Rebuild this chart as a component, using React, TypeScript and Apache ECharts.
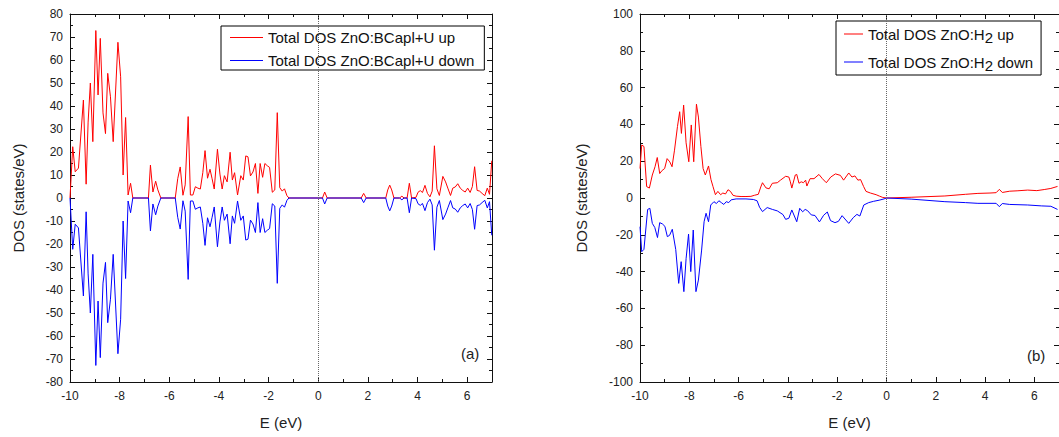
import React, { useEffect, useRef } from "react";
import * as echarts from "echarts";

// Panel (a): ZnO:BCapl+U
const EA = [-10.0, -9.89, -9.79, -9.66, -9.46, -9.35, -9.27, -9.18, -9.08, -8.96, -8.87, -8.78, -8.67, -8.57, -8.48, -8.37, -8.26, -8.07, -7.96, -7.86, -7.76, -7.66, -7.56, -7.47, -6.84, -6.76, -6.66, -6.55, -6.46, -6.34, -5.76, -5.66, -5.56, -5.45, -5.36, -5.24, -5.15, -5.05, -4.95, -4.85, -4.75, -4.65, -4.56, -4.46, -4.36, -4.28, -4.19, -4.06, -3.96, -3.87, -3.78, -3.67, -3.55, -3.46, -3.37, -3.25, -3.12, -3.02, -2.92, -2.83, -2.73, -2.63, -2.53, -2.43, -2.34, -2.24, -2.15, -2.05, -1.96, -1.85, -1.75, -1.65, -1.55, -1.45, -1.36, -1.26, -1.18, 0.17, 0.26, 0.36, 1.73, 1.83, 1.93, 2.72, 2.8, 2.88, 2.96, 3.05, 3.28, 3.37, 3.46, 3.58, 3.67, 3.76, 3.94, 4.02, 4.11, 4.2, 4.3, 4.4, 4.5, 4.59, 4.68, 4.78, 4.88, 5.02, 5.13, 5.22, 5.33, 5.42, 5.52, 5.62, 5.72, 5.82, 5.92, 6.02, 6.12, 6.21, 6.3, 6.4, 6.5, 6.6, 6.71, 6.81, 6.9, 6.99];
const UA = [0, 22.3, 11.4, 13, 42.6, 6, 33, 50, 24.5, 72.8, 44.8, 69.4, 37, 28, 54.2, 44, 24.5, 67.7, 52.7, 10, 35, 1.3, 6.4, 0, 0, 14.3, 2.6, 7.3, 3.5, 0, 0, 8.4, 13.5, 1.2, 5.7, 35.4, 1.3, 1.3, 4.9, 4.3, 3.9, 11, 20.6, 8.6, 12.5, 8.6, 3.9, 21.2, 10.4, 3.9, 9.7, 7, 19.9, 7.8, 11, 1.3, 9.7, 7.8, 18.3, 17.9, 9.6, 11.3, 15, 2, 15, 9, 15, 14, 13.3, 2.5, 3.5, 37.1, 4.5, 3, 4, 1, 0, 0, 2.6, 0, 0, 2, 0, 0, 3.5, 5.6, 3.5, 0, 0, 0.8, 0, 0, 6.4, 0, 0.3, 2.5, 3.2, 2.4, 5.5, 2, 0.5, 3, 22.7, 4, 1.1, 9.4, 7, 4.3, 1.1, 4.3, 4.8, 6.2, 4.3, 3.3, 2.6, 4.3, 2.4, 5, 13.6, 3.3, 3, 2, 1, 4.3, 1.6, 16.2];
const DA = [0, -22.3, -11.4, -13, -42.6, -6, -33, -50, -24.5, -72.8, -44.8, -69.4, -37, -28, -54.2, -44, -24.5, -67.7, -52.7, -10, -35, -1.3, -6.4, 0, 0, -14.3, -2.6, -7.3, -3.5, 0, 0, -8.4, -13.5, -1.2, -5.7, -35.4, -1.3, -1.3, -4.9, -4.3, -3.9, -11, -20.6, -8.6, -12.5, -8.6, -3.9, -21.2, -10.4, -3.9, -9.7, -7, -19.9, -7.8, -11, -1.3, -9.7, -7.8, -18.3, -17.9, -9.6, -11.3, -15, -2, -15, -9, -15, -14, -13.3, -2.5, -3.5, -37.1, -4.5, -3, -4, -1, 0, 0, -2.6, 0, 0, -2, 0, 0, -3.5, -5.6, -3.5, 0, 0, -0.8, 0, 0, -6.4, 0, -0.3, -2.5, -3.2, -2.4, -5.5, -2, -0.5, -3, -22.7, -4, -1.1, -9.4, -7, -4.3, -1.1, -4.3, -4.8, -6.2, -4.3, -3.3, -2.6, -4.3, -2.4, -5, -13.6, -3.3, -3, -2, -1, -4.3, -1.6, -16.2];

// Panel (b): ZnO:H2
const EB_UP = [-10.0, -9.93, -9.84, -9.73, -9.62, -9.5, -9.39, -9.3, -9.2, -9.1, -9.0, -8.9, -8.79, -8.7, -8.6, -8.48, -8.39, -8.32, -8.23, -8.13, -8.02, -7.92, -7.82, -7.71, -7.63, -7.53, -7.44, -7.35, -7.22, -7.12, -7.04, -6.94, -6.84, -6.73, -6.64, -6.53, -6.43, -6.33, -6.23, -6.1, -5.9, -5.7, -5.5, -5.35, -5.2, -5.1, -5.03, -4.89, -4.76, -4.63, -4.43, -4.3, -4.09, -3.96, -3.9, -3.84, -3.7, -3.64, -3.55, -3.46, -3.37, -3.28, -3.23, -3.1, -2.94, -2.74, -2.6, -2.44, -2.26, -2.07, -1.87, -1.74, -1.53, -1.4, -1.28, -1.16, -1.05, -0.93, -0.83, -0.65, -0.42, -0.28, -0.15, 0, 1.0, 2.37, 3.2, 3.71, 4.2, 4.45, 4.58, 4.7, 5.0, 5.3, 5.73, 6.1, 6.4, 6.67, 6.94];
const UB = [16, 28.8, 28, 6.2, 5.4, 12.5, 17, 22, 13.3, 15, 16, 21.4, 19.6, 17, 26, 38.8, 46.9, 35.1, 50.5, 30, 19.7, 39.7, 19.7, 51, 44, 28, 16, 12.5, 17.4, 10, 6.3, 1.8, 3.6, 1.8, 2.7, 2.2, 4.5, 3.6, 1.5, 1, 0.8, 0.8, 0.9, 1.5, 2, 6, 8.3, 5.5, 5, 8, 8.3, 9.7, 11.8, 11.4, 8.8, 5.4, 12.5, 12.8, 8, 8.8, 8.3, 9.7, 6.5, 10.5, 10.5, 12.8, 10.5, 8.3, 11.4, 13.1, 12.3, 9.7, 13.6, 11.4, 12, 9.7, 10, 6.3, 3.6, 2.7, 1.8, 1, 0.3, 0, 0.4, 1.1, 2, 2.5, 2.7, 2.9, 4.7, 3, 3.7, 3.9, 4.3, 4, 4.6, 5.2, 6.3];
const EB_DN = [-10.0, -9.93, -9.84, -9.69, -9.6, -9.5, -9.4, -9.29, -9.2, -9.09, -8.99, -8.89, -8.8, -8.69, -8.55, -8.43, -8.33, -8.22, -8.13, -8.03, -7.94, -7.84, -7.73, -7.63, -7.5, -7.4, -7.32, -7.22, -7.13, -7.0, -6.9, -6.8, -6.7, -6.6, -6.5, -6.4, -6.3, -6.1, -5.7, -5.4, -5.25, -5.15, -5.03, -4.84, -4.63, -4.43, -4.2, -4.09, -3.96, -3.84, -3.64, -3.52, -3.4, -3.3, -3.2, -3.05, -2.9, -2.72, -2.55, -2.4, -2.27, -2.09, -1.95, -1.8, -1.53, -1.35, -1.2, -1.08, -0.92, -0.72, -0.52, -0.3, -0.1, 0, 1.0, 2.37, 3.2, 3.71, 4.45, 4.58, 4.7, 5.0, 5.73, 6.3, 6.67, 6.94];
const DB = [-15.6, -29.2, -27.9, -6.2, -5.6, -13.8, -16, -21.5, -13.4, -14.1, -15.4, -21, -20.3, -17, -28, -46.4, -34.6, -50.9, -33, -19.6, -40, -17.4, -50.9, -44.6, -28.3, -12.9, -8.3, -12.9, -3.8, -2, -3, -1.5, -2.5, -3.5, -2, -2.5, -1, -0.5, -0.5, -0.8, -1.5, -5, -7.4, -5.2, -6.2, -7, -9, -11.6, -11, -6.5, -12.9, -5.6, -7.5, -6.2, -6.9, -9.2, -9.5, -13, -9.4, -7.6, -12.3, -13.4, -12.7, -9.6, -13.8, -10.7, -8.9, -9.8, -3.8, -2.5, -1.8, -1.2, -0.5, 0, -0.6, -2, -2.5, -2.9, -2.9, -4.7, -3, -3.5, -3.8, -4.3, -4.5, -6.2];

const NAME_A_UP = "Total DOS ZnO:BCapl+U up";
const NAME_A_DN = "Total DOS ZnO:BCapl+U down";
const NAME_B_UP = "Total DOS ZnO:H2 up";
const NAME_B_DN = "Total DOS ZnO:H2 down";

const FONT = "Liberation Sans, Arial, sans-serif";

function pairs(xs: number[], ys: number[]) {
  return xs.map((x, i) => [x, ys[i]]);
}

export default function App() {
  const ref = useRef<HTMLDivElement>(null);
  useEffect(() => {
    if (!ref.current) return;
    const chart = echarts.init(ref.current, undefined, { renderer: "svg" });
    const axisLine = { show: true, onZero: false, lineStyle: { color: "#111", width: 1 } };
    const tick = { show: true, inside: true, length: 5, lineStyle: { color: "#111" } };
    const minor = { show: true, splitNumber: 2, length: 3, lineStyle: { color: "#111" } };
    const label = { color: "#222", fontSize: 12, fontFamily: FONT };
    const nameStyle = { color: "#222", fontSize: 15, fontFamily: FONT };
    const xBase = (grid: number, pos: string, withLabel: boolean) => ({
      type: "value",
      gridIndex: grid,
      position: pos,
      min: -10,
      max: 7,
      interval: 2,
      axisLine,
      axisTick: tick,
      minorTick: minor,
      splitLine: { show: false },
      axisLabel: withLabel ? { ...label, margin: 8, showMaxLabel: false } : { show: false },
      name: withLabel ? "E (eV)" : "",
      nameLocation: "middle",
      nameGap: 33,
      nameTextStyle: nameStyle,
    });
    const yBase = (grid: number, pos: string, withLabel: boolean, lim: number, step: number, gap: number) => ({
      type: "value",
      gridIndex: grid,
      position: pos,
      min: -lim,
      max: lim,
      interval: step,
      axisLine,
      axisTick: tick,
      minorTick: minor,
      splitLine: { show: false },
      axisLabel: withLabel ? { ...label, margin: 7 } : { show: false },
      name: withLabel ? "DOS (states/eV)" : "",
      nameLocation: "middle",
      nameGap: gap,
      nameTextStyle: nameStyle,
    });
    const zeroLine = {
      silent: true,
      symbol: ["none", "none"],
      label: { show: false },
      lineStyle: { color: "#666", type: "dotted", width: 1 },
      data: [{ xAxis: 0 }],
    };
    const lineSeries = (name: string, data: number[][], color: string, idx: number, mark: boolean) => ({
      type: "line",
      name,
      data,
      xAxisIndex: idx,
      yAxisIndex: idx,
      symbol: "none",
      lineStyle: { color, width: 1 },
      itemStyle: { color },
      markLine: mark ? zeroLine : undefined,
      z: 3,
    });
    chart.setOption({
      animation: false,
      backgroundColor: "#fff",
      grid: [
        { left: 70, top: 14, width: 422, height: 368 },
        { left: 640, top: 14, width: 421.6, height: 368 },
      ],
      xAxis: [xBase(0, "bottom", true), xBase(0, "top", false), xBase(1, "bottom", true), xBase(1, "top", false)],
      yAxis: [
        yBase(0, "left", true, 80, 10, 44),
        yBase(0, "right", false, 80, 10, 44),
        yBase(1, "left", true, 100, 20, 51),
        yBase(1, "right", false, 100, 20, 51),
      ],
      legend: [
        {
          data: [NAME_A_UP, NAME_A_DN],
          orient: "vertical",
          left: 221,
          top: 26,
          padding: [3, 10, 1, 9],
          icon: "rect",
          itemWidth: 33,
          itemHeight: 1,
          itemGap: 6,
          borderColor: "#000",
          borderWidth: 1,
          borderRadius: 0,
          textStyle: { color: "#111", fontSize: 15, fontFamily: FONT, lineHeight: 17 },
        },
        {
          data: [NAME_B_UP, NAME_B_DN],
          orient: "vertical",
          left: 836,
          top: 21,
          padding: [2, 8, 2, 8],
          icon: "rect",
          itemWidth: 19,
          itemHeight: 1,
          itemGap: 6,
          borderColor: "#000",
          borderWidth: 1,
          borderRadius: 0,
          formatter: (n: string) => {
            const m = n.match(/^(.*H)2(.*)$/);
            return m ? `{n|${m[1]}}{s|2}{n|${m[2]}}` : n;
          },
          textStyle: {
            color: "#111",
            fontSize: 15,
            fontFamily: FONT,
            rich: {
              n: { fontSize: 15, fontFamily: FONT, color: "#111", lineHeight: 20 },
              s: { fontSize: 15, fontFamily: FONT, color: "#111", lineHeight: 20, padding: [7, 0, 0, 0] },
            },
          },
        },
      ],
      graphic: [
        { type: "text", left: 461, top: 346, style: { text: "(a)", font: `15px ${FONT}`, fill: "#222" } },
        { type: "text", left: 1027, top: 348, style: { text: "(b)", font: `15px ${FONT}`, fill: "#222" } },
      ],
      series: [
        lineSeries(NAME_A_UP, pairs(EA, UA), "#ff0000", 0, true),
        lineSeries(NAME_A_DN, pairs(EA, DA), "#0000ff", 0, false),
        lineSeries(NAME_B_UP, pairs(EB_UP, UB), "#ff0000", 2, true),
        lineSeries(NAME_B_DN, pairs(EB_DN, DB), "#0000ff", 2, false),
      ],
    });
    return () => chart.dispose();
  }, []);
  return <div ref={ref} style={{ position: "absolute", left: 0, top: 0, width: 1059, height: 437 }} />;
}
